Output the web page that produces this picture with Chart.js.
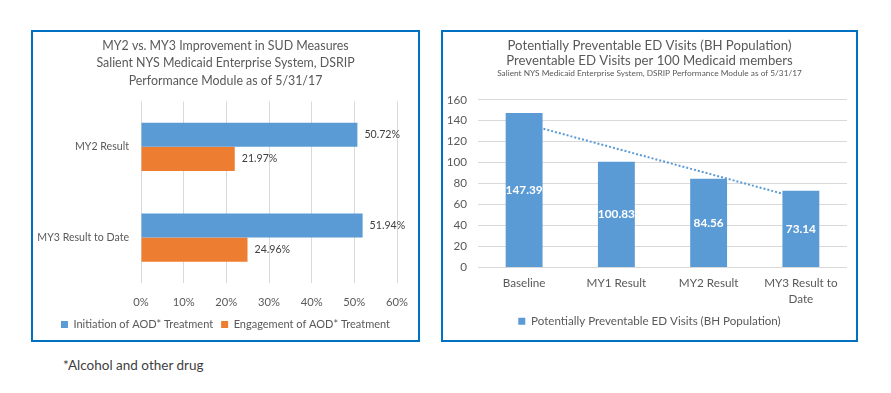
<!DOCTYPE html>
<html>
<head>
<meta charset="utf-8">
<script src="https://cdn.jsdelivr.net/npm/chart.js@4.4.0/dist/chart.umd.min.js"></script>
<style>
body { margin: 0; background: #fff; width: 891px; height: 393px; position: relative; overflow: hidden; font-family: Lato, sans-serif; }
.box { position: absolute; border: 2px solid #0070C0; box-sizing: border-box; }
#leftBox { left: 31px; top: 30px; width: 389px; height: 312px; }
#rightBox { left: 441px; top: 30px; width: 417px; height: 312px; }
.box canvas { display: block; }
#note { position: absolute; left: 63px; top: 357px; font-size: 13.5px; color: #404040; }
</style>
</head>
<body>
<div class="box" id="leftBox"><canvas id="sudChart" width="385" height="308"></canvas></div>
<div class="box" id="rightBox"><canvas id="edChart" width="413" height="308"></canvas></div>
<div id="note">*Alcohol and other drug</div>
<script>
// 左: SUD指標
const sudCategories = ['MY2 Result', 'MY3 Result to Date'];
const initiationValues = [50.72, 51.94];
const engagementValues = [21.97, 24.96];

// 右: ED受診
const edCategories = ['Baseline', 'MY1 Result', 'MY2 Result', ['MY3 Result to', 'Date']];
const edValues = [147.39, 100.83, 84.56, 73.14];
const edTrend = [137.3, 113.4, 89.5, 65.6]; // 線形トレンド

const blue = '#5B9BD5';
const orange = '#ED7D31';
const textGray = '#595959';
const gridGray = '#D9D9D9';

Chart.defaults.font.family = 'Lato, sans-serif';
Chart.defaults.color = textGray;

// 右側の余白用ダミー軸 (タイトルの中央寄せを崩さないため)
const spacerAxis = (type, w) => ({
    type: type,
    position: 'right',
    grid: { display: false, drawTicks: false },
    ticks: { display: false },
    border: { display: false },
    afterFit: s => { s.width = w; }
});

// バーの値ラベル
const valueLabels = {
    id: 'valueLabels',
    afterDatasetsDraw(chart, args, opts) {
        const ctx = chart.ctx;
        ctx.save();
        chart.data.datasets.forEach((ds, i) => {
            if (ds.type === 'line') return;
            const meta = chart.getDatasetMeta(i);
            meta.data.forEach((bar, j) => {
                const v = ds.data[j];
                ctx.font = opts.font;
                ctx.fillStyle = opts.color;
                ctx.textBaseline = 'middle';
                if (opts.inside) {
                    ctx.textAlign = 'center';
                    ctx.fillText(v.toFixed(2), bar.x, (bar.y + bar.base) / 2);
                } else {
                    ctx.textAlign = 'left';
                    ctx.fillText(v.toFixed(2) + '%', bar.x + 7, bar.y);
                }
            });
        });
        ctx.restore();
    }
};

new Chart(document.getElementById('sudChart'), {
    type: 'bar',
    data: {
        labels: sudCategories,
        datasets: [
            { label: 'Initiation of AOD* Treatment', data: initiationValues, backgroundColor: blue },
            { label: 'Engagement of AOD* Treatment', data: engagementValues, backgroundColor: orange }
        ]
    },
    options: {
        responsive: false,
        animation: false,
        indexAxis: 'y',
        categoryPercentage: 0.53,
        barPercentage: 1,
        layout: { padding: 0 },
        scales: {
            x: {
                min: 0, max: 60,
                afterFit: s => { s.height = 28; s.paddingLeft = 0; s.paddingRight = 0; },
                ticks: { stepSize: 10, padding: 13, color: textGray, font: { size: 11.2 }, callback: v => v + '%' },
                grid: { color: gridGray, drawTicks: false },
                border: { display: false }
            },
            y: {
                afterFit: s => { s.width = 108; },
                ticks: { padding: 12, color: textGray, font: { size: 10.6 } },
                grid: { display: false, drawTicks: false },
                border: { display: false }
            },
            yPad: spacerAxis('category', 21)
        },
        plugins: {
            title: {
                display: true,
                text: ['MY2 vs. MY3 Improvement in SUD Measures', 'Salient NYS Medicaid Enterprise System, DSRIP', 'Performance Module as of 5/31/17'],
                color: textGray,
                font: { size: 12.4, weight: 'normal', lineHeight: 1.41 },
                padding: { top: 5, bottom: 12 }
            },
            legend: {
                position: 'bottom',
                labels: { boxWidth: 7, boxHeight: 7, padding: 8, color: textGray, font: { size: 11 } }
            },
            tooltip: { enabled: false },
            valueLabels: { font: '10.6px Lato, sans-serif', color: '#404040', inside: false }
        }
    },
    plugins: [valueLabels]
});

new Chart(document.getElementById('edChart'), {
    type: 'bar',
    data: {
        labels: edCategories,
        datasets: [
            { label: 'Potentially Preventable ED Visits (BH Population)', data: edValues, backgroundColor: blue, order: 2 },
            { type: 'line', label: 'trend', data: edTrend, borderColor: blue, borderWidth: 2, borderDash: [2, 2], pointRadius: 0, fill: false, order: 1 }
        ]
    },
    options: {
        responsive: false,
        animation: false,
        categoryPercentage: 0.4,
        barPercentage: 1,
        layout: { padding: { left: 0, right: 0, top: 0, bottom: 3 } },
        scales: {
            x: {
                afterFit: s => { s.height = 40; },
                ticks: { padding: 8, color: textGray, font: { size: 11.7, lineHeight: 1.37 }, maxRotation: 0 },
                grid: { display: false, drawTicks: false },
                border: { display: false }
            },
            y: {
                min: 0, max: 160,
                afterFit: s => { s.width = 35; },
                ticks: { stepSize: 20, padding: 11, color: textGray, font: { size: 11.7 } },
                grid: { color: gridGray, drawTicks: false },
                border: { display: false }
            },
            yPad: spacerAxis('linear', 9)
        },
        plugins: {
            title: {
                display: true,
                text: ['Potentially Preventable ED Visits (BH Population)', 'Preventable ED Visits per 100 Medicaid members'],
                color: textGray,
                font: { size: 13.2, weight: 'normal', lineHeight: 1.14 },
                padding: { top: 6, bottom: 0 }
            },
            subtitle: {
                display: true,
                text: 'Salient NYS Medicaid Enterprise System, DSRIP Performance Module as of 5/31/17',
                color: textGray,
                font: { size: 8.3, weight: 'normal' },
                padding: { top: 0, bottom: 21.7 }
            },
            legend: {
                position: 'bottom',
                labels: {
                    boxWidth: 7, boxHeight: 7, padding: 8, color: textGray, font: { size: 11.6 },
                    filter: item => item.datasetIndex === 0
                }
            },
            tooltip: { enabled: false },
            valueLabels: { font: 'bold 11.8px Lato, sans-serif', color: '#ffffff', inside: true }
        }
    },
    plugins: [valueLabels]
});
</script>
</body>
</html>
